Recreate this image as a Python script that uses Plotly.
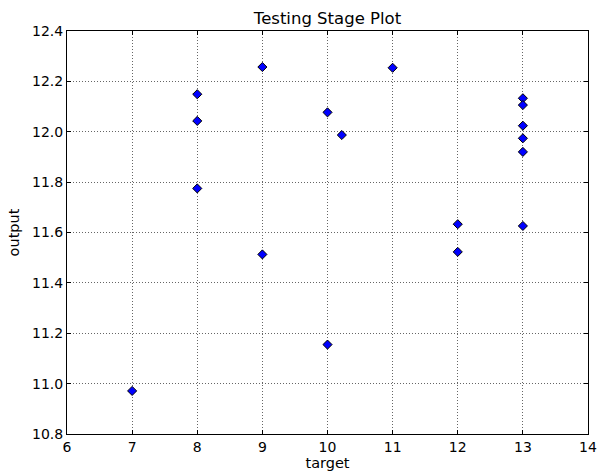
import plotly.graph_objects as go

target = [7, 8, 8, 8, 9, 9, 10, 10, 10.22, 11, 12, 12, 13, 13, 13, 13, 13, 13]
output = [10.971, 12.149, 12.043, 11.775, 12.257, 11.513, 12.077, 11.155, 11.987,
          12.254, 11.633, 11.523, 12.133, 12.106, 12.024, 11.974, 11.920, 11.626]

x_ticks = [6, 7, 8, 9, 10, 11, 12, 13, 14]
y_ticks = [10.8, 11.0, 11.2, 11.4, 11.6, 11.8, 12.0, 12.2, 12.4]

font = "DejaVu Sans"

fig = go.Figure()
fig.add_trace(go.Scatter(
    x=target, y=output, mode="markers",
    marker=dict(symbol="diamond", size=7, color="#0000ff",
                line=dict(color="black", width=1)),
    showlegend=False,
))

axis_common = dict(
    showline=True, linecolor="black", linewidth=1, mirror="allticks",
    ticks="inside", ticklen=4, tickcolor="black",
    showgrid=True, gridcolor="#666666", griddash="1px,2px", gridwidth=1,
    zeroline=False, automargin=False,
    tickfont=dict(family=font, size=14, color="black"),
)

fig.update_layout(
    width=597, height=471,
    margin=dict(l=67, r=9, t=31, b=37),
    paper_bgcolor="white", plot_bgcolor="white",
    title=dict(text="Testing Stage Plot", x=0.5, xref="paper", xanchor="center",
               y=1 - 18 / 471, yref="container", yanchor="middle",
               font=dict(family=font, size=16.5, color="black")),
    xaxis=dict(range=[6, 14], tickvals=x_ticks, ticktext=[str(v) for v in x_ticks],
               title=dict(text="target", standoff=1,
                          font=dict(family=font, size=14.5, color="black")),
               **axis_common),
    yaxis=dict(range=[10.8, 12.4], tickvals=y_ticks,
               ticktext=[f"{v:.1f}" for v in y_ticks],
               title=dict(text="output", standoff=8,
                          font=dict(family=font, size=14.5, color="black")),
               **axis_common),
)

fig.write_html("out.html")
